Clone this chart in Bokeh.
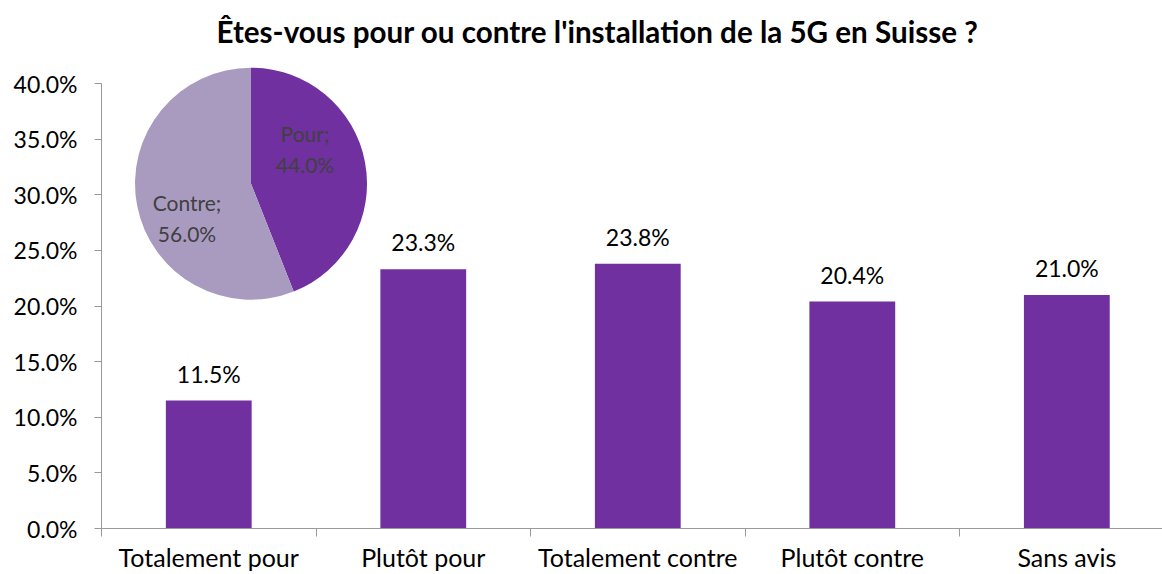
import math
from bokeh.plotting import figure
from bokeh.models import Range1d, FixedTicker, NumeralTickFormatter, ColumnDataSource
from bokeh.core.properties import value
from bokeh.embed import file_html
from bokeh.resources import INLINE

# ---- data ----
title_text = "Êtes-vous pour ou contre l'installation de la 5G en Suisse ?"
categories = ["Totalement pour", "Plutôt pour", "Totalement contre", "Plutôt contre", "Sans avis"]
shares = [0.115, 0.233, 0.238, 0.204, 0.210]
y_ticks = [0.0, 0.05, 0.10, 0.15, 0.20, 0.25, 0.30, 0.35, 0.40]
pie_labels = ["Pour", "Contre"]
pie_values = [0.44, 0.56]

# ---- style ----
FONT = "Lato"
BAR_COLOR = "#7030A0"
PIE_COLORS = ["#7030A0", "#A99BC0"]
AXIS_COLOR = "#999999"
Y_MAX = 0.40
Y_PAD = 22 / 1112.5   # head room above the axis so the inset pie is not clipped

p = figure(width=1162, height=574, output_backend="svg", toolbar_location=None,
           x_range=Range1d(0, 4.946), y_range=Range1d(0, Y_MAX + Y_PAD),
           min_border_left=101, min_border_right=0, min_border_top=61, min_border_bottom=46)
p.outline_line_color = None
p.xgrid.grid_line_color = None
p.ygrid.grid_line_color = None
p.background_fill_color = "white"
p.border_fill_color = "white"

# title
p.title.text = title_text
p.title.text_font = FONT
p.title.text_font_size = "29.6px"
p.title.text_font_style = "bold"
p.title.text_color = "black"
p.title.align = "left"
p.title.offset = 115
p.title.vertical_align = "top"
p.title.standoff = 22

# bars
xs = [i + 0.5 for i in range(len(categories))]
src = ColumnDataSource(dict(x=xs, top=shares, cat=categories,
                            lab=[f"{v*100:.1f}%" for v in shares]))
p.vbar(x="x", top="top", bottom=0, width=0.4, source=src,
       fill_color=BAR_COLOR, line_color=None)
p.text(x="x", y="top", text="lab", source=src, text_align="center",
       text_baseline="alphabetic", y_offset=-27, text_font=value(FONT),
       text_font_size="23px", text_color="black")

# x axis
xa = p.xaxis[0]
xa.ticker = FixedTicker(ticks=xs, minor_ticks=list(range(len(categories) + 1)))
xa.major_label_overrides = {x: c for x, c in zip(xs, categories)}
xa.major_tick_line_color = None
xa.major_tick_out = 0
xa.major_tick_in = 0
xa.minor_tick_out = 8
xa.minor_tick_in = 0
xa.minor_tick_line_color = AXIS_COLOR
xa.axis_line_color = AXIS_COLOR
xa.major_label_text_font = FONT
xa.major_label_text_font_size = "25px"
xa.major_label_text_color = "black"
xa.major_label_standoff = 5

# y axis
ya = p.yaxis[0]
ya.ticker = FixedTicker(ticks=y_ticks)
ya.formatter = NumeralTickFormatter(format="0.0%")
ya.bounds = (0, Y_MAX)
ya.major_tick_out = 7
ya.major_tick_in = 0
ya.minor_tick_line_color = None
ya.major_tick_line_color = AXIS_COLOR
ya.axis_line_color = AXIS_COLOR
ya.major_label_text_font = FONT
ya.major_label_text_font_size = "23px"
ya.major_label_text_color = "black"
ya.major_label_standoff = 17

# pie (inset)
pie_cx, pie_cy, pie_r = 0.697, 0.310, 116
starts, ends = [], []
acc = 0.0
for v in pie_values:
    a_end = math.pi / 2 - 2 * math.pi * acc
    a_start = math.pi / 2 - 2 * math.pi * (acc + v)
    starts.append(a_start)
    ends.append(a_end)
    acc += v
pie_src = ColumnDataSource(dict(x=[pie_cx] * len(pie_values), y=[pie_cy] * len(pie_values),
                                start=starts, end=ends, color=PIE_COLORS,
                                lab=[f"{n};\n{v*100:.1f}%" for n, v in zip(pie_labels, pie_values)],
                                dx=[54, -64], dy=[-35, 34]))
p.wedge(x="x", y="y", radius=pie_r, radius_units="screen", start_angle="start",
        end_angle="end", fill_color="color", line_color=None, source=pie_src)
p.text(x="x", y="y", text="lab", x_offset="dx", y_offset="dy", source=pie_src,
       text_align="center", text_baseline="middle", text_font=value(FONT),
       text_font_size="21px", text_color="#404040", text_line_height=1.25)

open("out.html", "w").write(file_html(p, INLINE))
